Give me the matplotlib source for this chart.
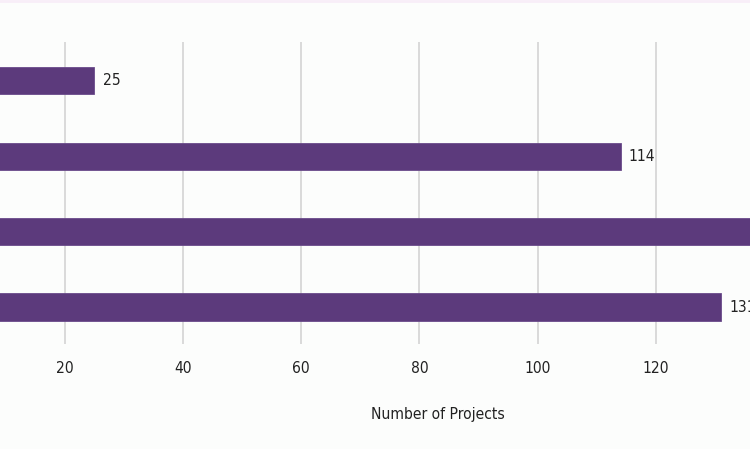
import matplotlib
matplotlib.use("Agg")
import matplotlib.pyplot as plt

categories = ["Category A", "Category B", "Category C", "Category D"]
values = [25, 114, 150, 131]
tick_values = [20, 40, 60, 80, 100, 120]
xlabel = "Number of Projects"

plt.rcParams["font.family"] = ["DejaVu Sans"]
plt.rcParams["font.stretch"] = "condensed"

W, H = 750, 449
fig = plt.figure(figsize=(W / 100, H / 100), dpi=100, facecolor="#fcfdfc")
ax = fig.add_axes([0, 1 - 344 / H, 1, (344 - 42) / H])
ax.set_facecolor("#fcfdfc")

ypos = list(range(len(categories)))
ax.barh(ypos, values, height=0.36, color="#5c3a7c", edgecolor="#6a4a8a",
        linewidth=0.6, zorder=3)
for y, v in zip(ypos, values):
    ax.annotate(f"{v}", (v, y), xytext=(6, 0), textcoords="offset points",
                va="center", ha="left", fontsize=11.2, color="#222222",
                fontstretch="condensed", zorder=4, annotation_clip=False)

# x scale: 20 -> 64.6 px, 120 -> 656 px
ppu = (656 - 64.6) / 100.0
x0 = 20 - 64.6 / ppu
ax.set_xlim(x0, x0 + W / ppu)
ax.set_ylim(3.49, -0.513)
ax.set_xticks(tick_values)
ax.set_xticklabels([str(t) for t in tick_values], fontstretch="condensed")
ax.set_yticks(ypos)
ax.set_yticklabels(categories)
ax.tick_params(axis="x", length=0, pad=12, labelsize=11.2, colors="#222222")
ax.tick_params(axis="y", length=0, labelleft=False)
ax.grid(axis="x", color="#d4d4d4", linewidth=1.2, zorder=0)
ax.grid(axis="y", visible=False)
for s in ax.spines.values():
    s.set_visible(False)
ax.set_xlabel(xlabel, fontsize=11.2, color="#222222", fontstretch="condensed")
ax.xaxis.set_label_coords(438 / W, -(415 - 344) / (344 - 42))
ax.xaxis.label.set_va("center")

fig.add_artist(plt.Line2D([0, 1], [1 - 1 / H, 1 - 1 / H], transform=fig.transFigure,
                          color="#f8eef8", linewidth=2))

fig.savefig("out.png", dpi=100, facecolor=fig.get_facecolor())
